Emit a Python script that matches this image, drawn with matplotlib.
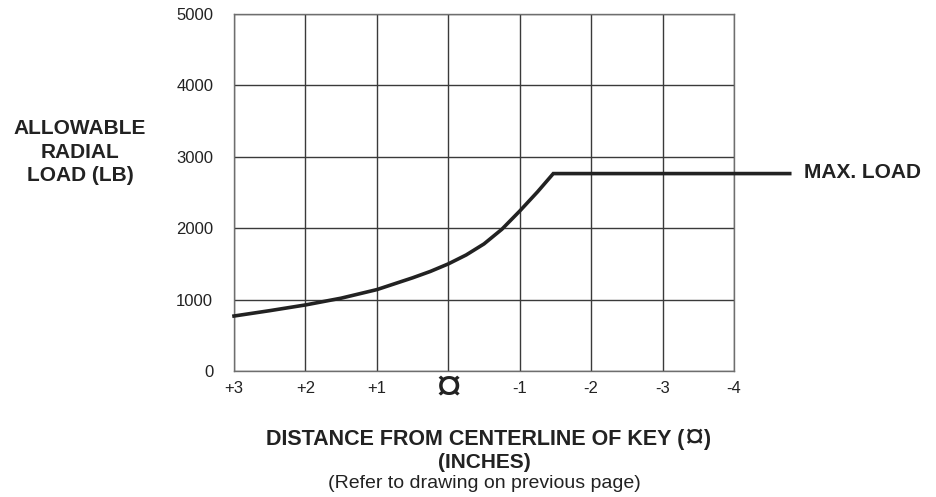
import matplotlib
matplotlib.use("Agg")
import matplotlib.pyplot as plt
import matplotlib.transforms as mtransforms

plt.rcParams['font.family'] = ['Liberation Sans', 'DejaVu Sans']

# Data (distance from key centerline, inches; allowable radial load, lb)
distance = [3, 2.5, 2, 1.5, 1, 0.5, 0.25, 0, -0.25, -0.5, -0.75, -1, -1.25, -1.47, -4.78]
load = [770, 845, 925, 1020, 1140, 1305, 1395, 1500, 1625, 1780, 1985, 2240, 2510, 2765, 2765]

x_ticks = [3, 2, 1, 0, -1, -2, -3, -4]
x_tick_labels = ['+3', '+2', '+1', '', '-1', '-2', '-3', '-4']
y_ticks = [0, 1000, 2000, 3000, 4000, 5000]
center_symbol = '\u00a4'

TXT = '#222222'
W, H = 936, 497

fig = plt.figure(figsize=(W / 100, H / 100), dpi=100)
ax = fig.add_axes([234 / W, 1 - 371 / H, 500 / W, 357 / H])

ax.set_xlim(3, -4)
ax.set_ylim(0, 5000)
ax.set_xticks(x_ticks)
ax.set_xticklabels(x_tick_labels)
ax.set_yticks(y_ticks)
ax.tick_params(axis='both', length=0, labelsize=12, colors=TXT)
ax.tick_params(axis='y', pad=15)
ax.tick_params(axis='x', pad=7)

# centerline symbol as the "0" tick label
trans = mtransforms.blended_transform_factory(ax.transData, fig.transFigure)
ax.text(0, 1 - 389 / H, center_symbol, transform=trans, ha='center', va='center',
        fontsize=34, color=TXT)

ax.grid(True, color='#3a3a3a', linewidth=1.0)
for sp in ax.spines.values():
    sp.set_color('#6e6e6e')
    sp.set_linewidth(1.0)

ax.plot(distance, load, color='#222222', linewidth=2.6, clip_on=False,
        solid_joinstyle='miter', zorder=5)

fig.text(80 / W, 1 - 152 / H, 'ALLOWABLE\nRADIAL\nLOAD (LB)', ha='center', va='center',
         fontsize=15, fontweight='bold', color=TXT, linespacing=1.28)
fig.text(804 / W, 1 - 173 / H, 'MAX. LOAD', ha='left', va='center',
         fontsize=15, fontweight='bold', color=TXT)

# x label line 1, built from pieces so the symbol can be larger
cx1 = 488
y1 = 1 - 439 / H
renderer = fig.canvas.get_renderer()
p1 = fig.text(0, y1, 'DISTANCE FROM CENTERLINE OF KEY (', ha='left', va='center',
              fontsize=15.5, fontweight='bold', color=TXT)
p2 = fig.text(0, y1, center_symbol, ha='left', va='center', fontsize=25, color=TXT)
p3 = fig.text(0, y1, ')', ha='left', va='center', fontsize=15.5, fontweight='bold', color=TXT)
w1 = p1.get_window_extent(renderer).width
w2 = p2.get_window_extent(renderer).width
w3 = p3.get_window_extent(renderer).width
x0 = cx1 - (w1 + w2 + w3) / 2
p1.set_x(x0 / W)
p2.set_x((x0 + w1) / W)
p3.set_x((x0 + w1 + w2) / W)

cx = 484
fig.text(cx / W, 1 - 462 / H, '(INCHES)', ha='center', va='center',
         fontsize=15, fontweight='bold', color=TXT)
fig.text(cx / W, 1 - 484 / H, '(Refer to drawing on previous page)', ha='center', va='center',
         fontsize=14, color=TXT)

fig.savefig('out.png', dpi=100)
